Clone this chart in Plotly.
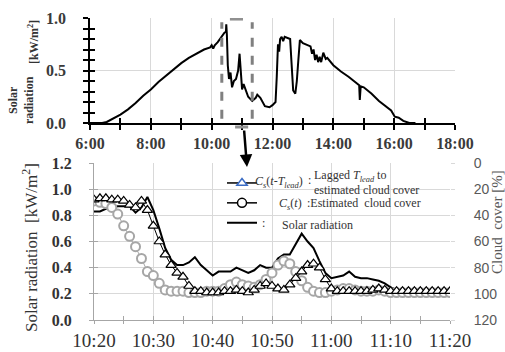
import plotly.graph_objects as go

# ---------------- data ----------------
# top chart: daily solar radiation (decimal hour, kW/m2)
day_hours = [6.0, 6.40, 6.55, 6.75, 7.0, 7.25, 7.5, 7.75, 8.0, 8.25, 8.5, 8.75, 9.0, 9.25,
             9.5, 9.75, 9.95, 10.0, 10.05, 10.1, 10.2, 10.333, 10.42, 10.47, 10.48, 10.5,
             10.53, 10.57, 10.62, 10.67, 10.73, 10.8, 10.87, 10.917, 10.95, 11.0, 11.05,
             11.15, 11.2, 11.333, 11.45, 11.5, 11.6, 11.75, 11.9, 12.0, 12.1, 12.14, 12.18,
             12.22, 12.25, 12.3, 12.35, 12.4, 12.58, 12.62, 12.68, 12.75, 12.8, 12.85, 12.9,
             13.0, 13.1, 13.25, 13.3, 13.35, 13.4, 13.45, 13.5, 13.55, 13.6, 13.67, 13.75,
             13.8, 14.0, 14.25, 14.5, 14.75, 14.85, 14.87, 14.9, 15.0, 15.25, 15.5, 15.75,
             15.9, 16.02, 16.15, 16.3, 16.5, 16.7]
day_solar = [0.0, 0.0, 0.01, 0.04, 0.08, 0.13, 0.19, 0.26, 0.32, 0.39, 0.45, 0.51, 0.57, 0.62,
             0.66, 0.70, 0.72, 0.74, 0.71, 0.74, 0.77, 0.83, 0.86, 0.87, 0.94, 0.84,
             0.55, 0.42, 0.48, 0.34, 0.40, 0.42, 0.50, 0.66, 0.50, 0.32, 0.37,
             0.30, 0.25, 0.21, 0.24, 0.27, 0.24, 0.16, 0.15, 0.17, 0.20, 0.44, 0.75,
             0.68, 0.80, 0.82, 0.78, 0.82, 0.80, 0.60, 0.31, 0.28, 0.40, 0.60, 0.79,
             0.76, 0.75, 0.73, 0.66, 0.70, 0.60, 0.65, 0.58, 0.63, 0.58, 0.67, 0.61,
             0.62, 0.55, 0.49, 0.44, 0.38, 0.36, 0.22, 0.35, 0.34, 0.28, 0.21, 0.15,
             0.12, 0.06, 0.05, 0.02, 0.0, 0.0]
day_tickvals = [6, 8, 10, 12, 14, 16, 18]
day_ticktext = ["6:00", "8:00", "10:00", "12:00", "14:00", "16:00", "18:00"]
window_start_h = 10 + 20 / 60
window_end_h = 11 + 20 / 60

# bottom chart: minutes after 10:20
minutes = list(range(61))
solar_min = [0.83, 0.83, 0.85, 0.86, 0.87, 0.87, 0.87, 0.82, 0.86, 0.94,
             0.84, 0.70, 0.55, 0.46, 0.42, 0.42, 0.44, 0.48, 0.42, 0.38,
             0.34, 0.37, 0.37, 0.37, 0.40, 0.38, 0.36, 0.38, 0.42, 0.40,
             0.40, 0.47, 0.50, 0.50, 0.58, 0.66, 0.60, 0.55, 0.45, 0.36,
             0.32, 0.33, 0.34, 0.37, 0.33, 0.32, 0.32, 0.31, 0.30, 0.28,
             0.25, 0.23, 0.22, 0.22, 0.22, 0.21, 0.21, 0.21, 0.21, 0.21, 0.21]
# cloud cover [%] (right axis, reversed)
lagged_cover = [28, 27, 27, 28, 28, 29, 32, 34, 29, 36,
                48, 60, 70, 78, 84, 87, 94, 98, 98, 99,
                99, 99, 98, 98, 97, 98, 99, 97, 94, 92,
                94, 96, 97, 93, 88, 83, 78, 77, 80, 89,
                96, 98, 98, 98, 98, 98, 98, 97, 96, 97,
                98, 98, 98, 98, 98, 98, 98, 98, 98, 98, 98]
est_cover = [29, 30, 31, 34, 39, 48, 56, 64, 73, 83,
             86, 92, 97, 98, 98, 98, 99, 99, 99, 98,
             98, 98, 96, 93, 91, 93, 94, 95, 93, 89,
             84, 78, 75, 77, 83, 90, 95, 98, 99, 99,
             98, 97, 96, 96, 97, 98, 98, 98, 97, 98,
             99, 99, 99, 99, 99, 99, 99, 99, 99, 99, 99]
min_tickvals = [0, 10, 20, 30, 40, 50, 60]
min_ticktext = ["10:20", "10:30", "10:40", "10:50", "11:00", "11:10", "11:20"]

SERIF = "Liberation Serif"
GRID = "#d9d9d9"
W, H = 505, 352


def px(xp):
    return xp / W


def py(yp):
    return 1 - yp / H


fig = go.Figure()

# ---- top chart ----
fig.add_trace(go.Scatter(x=day_hours, y=day_solar, mode="lines",
                         line=dict(color="black", width=2), showlegend=False,
                         xaxis="x", yaxis="y", hoverinfo="skip"))
# ---- bottom chart ----
fig.add_trace(go.Scatter(x=minutes, y=est_cover, mode="lines+markers",
                         line=dict(color="#a6a6a6", width=1),
                         marker=dict(symbol="circle", size=9, color="white",
                                     line=dict(color="#a6a6a6", width=2)),
                         showlegend=False, xaxis="x2", yaxis="y3", hoverinfo="skip"))
fig.add_trace(go.Scatter(x=minutes, y=lagged_cover, mode="lines+markers",
                         line=dict(color="black", width=1),
                         marker=dict(symbol="triangle-up", size=9, color="white",
                                     line=dict(color="black", width=1.2)),
                         showlegend=False, xaxis="x2", yaxis="y3", hoverinfo="skip"))
fig.add_trace(go.Scatter(x=minutes, y=solar_min, mode="lines",
                         line=dict(color="black", width=2),
                         showlegend=False, xaxis="x2", yaxis="y2", hoverinfo="skip"))
# legend-only symbol entries (text is placed separately)
fig.add_trace(go.Scatter(x=[None], y=[None], mode="lines+markers", name=" ",
                         line=dict(color="black", width=1.5),
                         marker=dict(symbol="triangle-up", size=9, color="white",
                                     line=dict(color="#3b6cc4", width=1.5)),
                         xaxis="x2", yaxis="y2"))
fig.add_trace(go.Scatter(x=[None], y=[None], mode="lines+markers", name=" ",
                         line=dict(color="black", width=1.5),
                         marker=dict(symbol="circle", size=9, color="white",
                                     line=dict(color="black", width=1.5)),
                         xaxis="x2", yaxis="y2"))
fig.add_trace(go.Scatter(x=[None], y=[None], mode="lines", name=" ",
                         line=dict(color="black", width=2), xaxis="x2", yaxis="y2"))
# empty traces carrying the inward half of crossing ticks
fig.add_trace(go.Scatter(x=[None], y=[None], xaxis="x4", yaxis="y4", showlegend=False))
fig.add_trace(go.Scatter(x=[None], y=[None], xaxis="x5", yaxis="y5", showlegend=False))

top_dom_x = [px(90), px(455)]
top_dom_y = [py(123), py(18)]
bot_dom_x = [px(94), px(450)]
bot_dom_y = [py(320), py(163)]

fig.update_layout(
    width=W, height=H,
    margin=dict(l=0, r=0, t=0, b=0, autoexpand=False),
    paper_bgcolor="white", plot_bgcolor="white",
    font=dict(family=SERIF, color="#333333", size=12),
    xaxis=dict(domain=top_dom_x, anchor="y", range=[6, 18], automargin=False,
               tickvals=day_tickvals, ticktext=day_ticktext,
               tickfont=dict(size=16, family=SERIF, color="#3a3a3a", weight="bold"),
               showgrid=True, gridcolor=GRID, gridwidth=1.2,
               showline=True, linecolor="black", linewidth=1.5,
               ticks="outside", ticklen=5, tickcolor="black", tickwidth=1.5,
               ticklabelstandoff=0,
               minor=dict(dtick=1, ticks="outside", ticklen=5, tickcolor="black",
                          tickwidth=1.5, showgrid=False),
               zeroline=False),
    yaxis=dict(domain=top_dom_y, anchor="x", range=[0, 1.0], automargin=False,
               tickvals=[0, 0.5, 1.0], ticktext=["0.0", "0.5", "1.0"],
               tickfont=dict(size=16, family=SERIF, color="#3a3a3a", weight="bold"),
               showgrid=True, gridcolor=GRID, gridwidth=1.2,
               showline=True, linecolor="black", linewidth=1.5,
               ticks="outside", ticklen=5, tickcolor="black", tickwidth=1.5,
               ticklabelstandoff=14,
               minor=dict(dtick=0.1, ticks="outside", ticklen=5, tickcolor="black",
                          tickwidth=1.5, showgrid=False),
               zeroline=False),
    xaxis4=dict(overlaying="x", anchor="y4", range=[6, 18], dtick=1, ticks="inside",
                ticklen=5, tickcolor="black", tickwidth=1.5, showticklabels=False,
                showgrid=False, zeroline=False, showline=False, automargin=False),
    yaxis4=dict(overlaying="y", anchor="x4", range=[0, 1.0], dtick=0.1, ticks="inside",
                ticklen=5, tickcolor="black", tickwidth=1.5, showticklabels=False,
                showgrid=False, zeroline=False, showline=False, automargin=False),
    xaxis2=dict(domain=bot_dom_x, anchor="y2", range=[0, 60], automargin=False,
                tickvals=min_tickvals, ticktext=min_ticktext,
                tickfont=dict(size=19, family=SERIF, color="#333333"),
                showgrid=True, gridcolor=GRID, gridwidth=1.2,
                showline=True, linecolor="#a6a6a6", linewidth=1.2,
                ticks="outside", ticklen=3, tickcolor="#a6a6a6",
                ticklabelstandoff=0,
                minor=dict(dtick=5, ticks="outside", ticklen=3, tickcolor="#a6a6a6",
                           showgrid=False),
                zeroline=False),
    yaxis2=dict(domain=bot_dom_y, anchor="x2", range=[0, 1.2], dtick=0.2, automargin=False,
                tickformat=".1f",
                tickfont=dict(size=16, family=SERIF, color="#333333", weight="bold"),
                showgrid=True, gridcolor=GRID, gridwidth=1.2,
                showline=True, linecolor="#a6a6a6", linewidth=1.2,
                ticks="outside", ticklen=4, tickcolor="#a6a6a6",
                ticklabelstandoff=14, zeroline=False),
    yaxis3=dict(overlaying="y2", anchor="x2", side="right", range=[120, 0], dtick=20,
                automargin=False,
                tickfont=dict(size=14, family="Liberation Sans", color="#595959"),
                showgrid=False, showline=False, ticks="outside", ticklen=4,
                tickcolor="#d9d9d9", ticklabelstandoff=16, zeroline=False),
    xaxis5=dict(overlaying="x2", anchor="y5", range=[0, 60], dtick=5, ticks="inside",
                ticklen=4, tickcolor="#a6a6a6", showticklabels=False,
                showgrid=False, zeroline=False, showline=False, automargin=False),
    yaxis5=dict(overlaying="y2", anchor="x5", range=[0, 1.2], dtick=0.2, ticks="inside",
                ticklen=4, tickcolor="#a6a6a6", showticklabels=False,
                showgrid=False, zeroline=False, showline=False, automargin=False),
    legend=dict(x=px(222), y=py(168), xanchor="left", yanchor="top",
                bgcolor="rgba(255,255,255,0)", font=dict(size=13, family=SERIF),
                itemwidth=30, tracegroupgap=0),
)

# dashed window lines in top chart
for xv in (window_start_h, window_end_h):
    fig.add_shape(type="line", xref="x", yref="y", x0=xv, x1=xv, y0=0.04, y1=0.96,
                  line=dict(color="#808080", width=3, dash="dash"))
# short gray bars
fig.add_shape(type="line", xref="x", yref="y", x0=10.6, x1=11.03, y0=0.99, y1=0.99,
              line=dict(color="#909090", width=3))
fig.add_shape(type="line", xref="x", yref="paper", x0=10.77, x1=11.2,
              y0=py(127), y1=py(127), line=dict(color="#909090", width=3))

# arrow
fig.add_annotation(x=px(247), y=py(167), xref="paper", yref="paper",
                   ax=-3, ay=-38, text="", showarrow=True, arrowhead=2,
                   arrowsize=1, arrowwidth=2.5, arrowcolor="black")

# legend texts
LEG = dict(size=12, family=SERIF, color="#333333")
legend_texts = [
    (253, 182, "<i>C<sub>s</sub></i>(<i>t</i>-<i>T<sub>lead</sub></i>)"),
    (306, 180, ":"),
    (312, 176, "Lagged <i>T<sub>lead</sub></i> to"),
    (312, 190, "estimated cloud cover"),
    (277, 204, "<i>C<sub>s</sub></i>(<i>t</i>)"),
    (305, 203, ":Estimated  cloud cover"),
    (260, 223, ":"),
    (280, 225, "Solar radiation"),
]
for xp_, yp_, t in legend_texts:
    fig.add_annotation(x=px(xp_), y=py(yp_), xref="paper", yref="paper", text=t,
                       xanchor="left", yanchor="middle", showarrow=False, font=LEG)

# axis titles
fig.add_annotation(x=px(21), y=py(100), xref="paper", yref="paper",
                   xanchor="center", yanchor="middle",
                   text="<b>Solar<br>radiation</b>", textangle=-90, showarrow=False,
                   font=dict(size=12, family=SERIF, color="#333333"))
fig.add_annotation(x=px(33), y=py(42), xref="paper", yref="paper",
                   xanchor="center", yanchor="middle",
                   text="<b>[kW/m<sup>2</sup>]</b>", textangle=-90, showarrow=False,
                   font=dict(size=12, family=SERIF, color="#333333"))
fig.add_annotation(x=px(30), y=py(248), xref="paper", yref="paper",
                   xanchor="center", yanchor="middle",
                   text="Solar radiation  [kW/m<sup>2</sup>]", textangle=-90, showarrow=False,
                   font=dict(size=17, family=SERIF, color="#333333"))
fig.add_annotation(x=px(497), y=py(222), xref="paper", yref="paper",
                   xanchor="center", yanchor="middle",
                   text="Cloud  cover [%]", textangle=-90, showarrow=False,
                   font=dict(size=15, family=SERIF, color="#595959"))

fig.write_html("out.html", config={"displayModeBar": False},
               post_script="document.body.style.margin='0px';document.body.style.overflow='hidden';")
